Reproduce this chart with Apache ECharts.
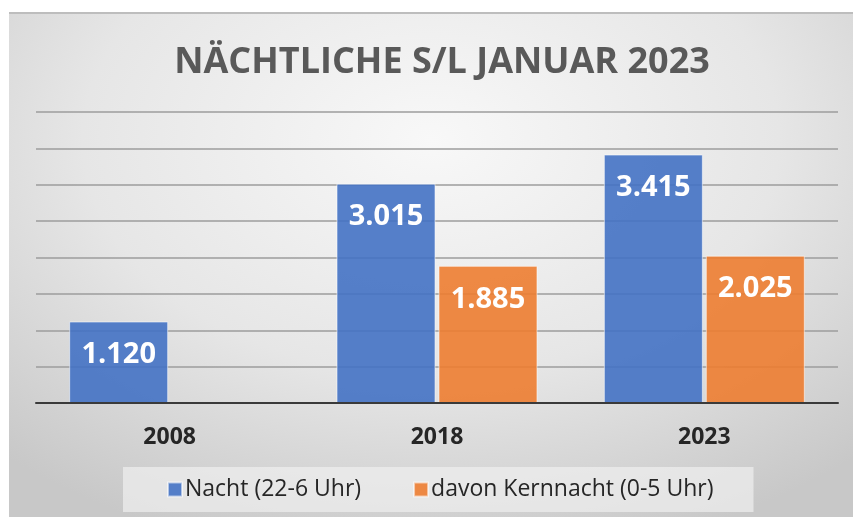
<!DOCTYPE html>
<html>
<head>
<meta charset="utf-8">
<script src="https://cdn.jsdelivr.net/npm/echarts@6/dist/echarts.min.js"></script>
<style>
  html, body { margin: 0; padding: 0; background: #ffffff; }
  #bg { position: absolute; left: 9px; top: 12px; width: 844px; height: 505px;
        border-top: 2px solid #bdbdbd; box-sizing: border-box;
        background: radial-gradient(ellipse 75% 85% at 50% 25%, #f8f8f8 0%, #e6e6e6 55%, #c8c8c8 100%); }
  #chart { position: absolute; left: 0; top: 0; width: 853px; height: 517px; }
</style>
</head>
<body>
<div id="bg"></div>
<div id="chart"></div>
<script>
const titleText = 'NÄCHTLICHE S/L JANUAR 2023';
const categories = ['2008', '2018', '2023'];
const seriesNames = ['Nacht (22-6 Uhr)', 'davon Kernnacht (0-5 Uhr)'];
const nacht = [1120, 3015, 3415];
const kernnacht = [null, 1885, 2025];
const yMin = 0, yMax = 4000, yInterval = 500;

function fmtDE(v) {
  const s = Math.round(v).toString();
  return s.replace(/\B(?=(\d{3})+(?!\d))/g, '.');
}

const chart = echarts.init(document.getElementById('chart'), null, { renderer: 'canvas' });
const labelStyle = {
  show: true,
  position: 'insideTop',
  distance: 19,
  color: '#ffffff',
  fontFamily: 'Open Sans',
  fontWeight: 'bold',
  fontSize: 29,
  formatter: p => fmtDE(p.value)
};
chart.setOption({
  backgroundColor: 'transparent',
  animation: false,
  title: {
    text: titleText,
    left: 437,
    textAlign: 'center',
    top: 40,
    textStyle: { fontFamily: 'Open Sans', fontWeight: 'bold', fontSize: 36, color: '#595959' }
  },
  legend: {
    data: seriesNames,
    left: 123,
    top: 467,
    padding: [11, 40, 11, 44],
    backgroundColor: 'rgba(240,240,240,0.7)',
    itemWidth: 14,
    itemHeight: 14,
    itemGap: 52,
    icon: 'rect',
    textStyle: { fontFamily: 'Open Sans', fontSize: 23, color: '#262626', padding: [0, 0, 0, -2] }
  },
  grid: { left: 36, right: 15, top: 112, bottom: 114, containLabel: false },
  xAxis: {
    type: 'category',
    data: categories,
    axisLine: { lineStyle: { color: '#3a3a3a', width: 2 } },
    axisTick: { show: false },
    axisLabel: { margin: 23, fontFamily: 'Open Sans', fontWeight: 'bold', fontSize: 23, color: '#262626' },
    z: 5
  },
  yAxis: {
    type: 'value',
    min: yMin, max: yMax, interval: yInterval,
    axisLabel: { show: false },
    axisLine: { show: false },
    axisTick: { show: false },
    splitLine: { lineStyle: { color: '#9c9c9c', width: 1.5 } }
  },
  series: [
    {
      name: seriesNames[0], type: 'bar', data: nacht,
      barWidth: 99, barGap: '3%',
      itemStyle: { color: 'rgba(68,114,196,0.9)', borderColor: 'rgba(255,255,255,0.55)', borderWidth: 1 },
      label: labelStyle
    },
    {
      name: seriesNames[1], type: 'bar', data: kernnacht,
      barWidth: 99,
      itemStyle: { color: 'rgba(237,125,49,0.9)', borderColor: 'rgba(255,255,255,0.55)', borderWidth: 1 },
      label: labelStyle
    }
  ]
});
</script>
</body>
</html>
